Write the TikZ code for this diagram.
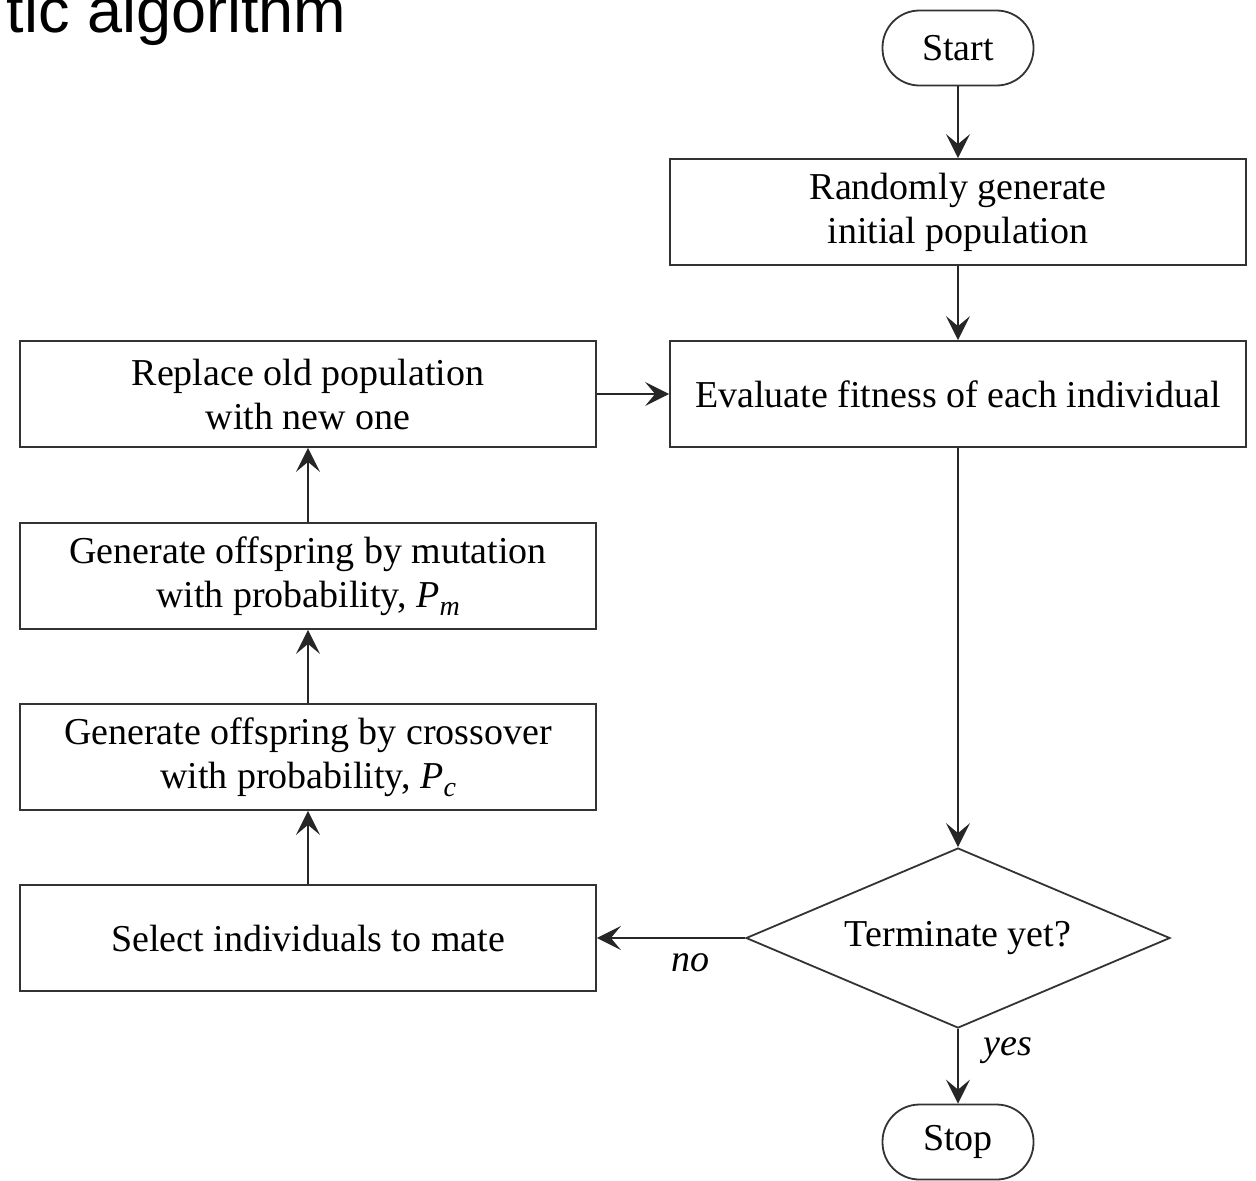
\documentclass[tikz,border=0pt]{standalone}
\usepackage{fontspec}
\setmainfont{Liberation Serif}
\newfontfamily\titlefont{Liberation Sans}
\usetikzlibrary{shapes.geometric,arrows.meta}
\begin{document}
\begin{tikzpicture}[x=0.5pt,y=-0.5pt,
  line width=0.9pt,
  every node/.style={font=\fontsize{19}{22}\selectfont},
  box/.style={draw=black!80, rectangle, minimum width=288pt, minimum height=53pt, align=center, inner sep=0pt},
  term/.style={draw=black!80, rectangle, rounded corners=18.5pt, minimum width=75.5pt, minimum height=37.5pt, inner sep=0pt},
  decision/.style={draw=black!80, diamond, aspect=2.36, minimum width=212pt, minimum height=90pt, inner sep=0pt},
  flow/.style={draw=black!85, -{Stealth[length=12pt,width=12pt,inset=5pt]}},
  tag/.style={font=\fontsize{19}{22}\selectfont\itshape}
]
\useasboundingbox (0,0) rectangle (1256,1180);
\clip (0,0) rectangle (1256,1180);

% heading, cut by the top edge
\node[anchor=base west, inner sep=0pt, font=\titlefont\fontsize{31.5}{36}\selectfont] (title) at (6,32) {tic algorithm};

% main column
\node[term] (start) at (958,48) {Start};
\node[box] (init) at (958,212) {Randomly generate\\initial population};
\node[box] (eval) at (958,394) {Evaluate fitness of each individual};
\node[decision] (term) at (958,938) {Terminate yet?};
\node[term] (stop) at (958,1142) {Stop};

% loop column
\node[box] (repl) at (308,394) {Replace old population\\with new one};
\node[box] (mut) at (308,576) {Generate offspring by mutation\\with probability, \textit{P}\raisebox{-0.45ex}{\fontsize{14}{14}\selectfont\textit{m}}};
\node[box] (cross) at (308,757) {Generate offspring by crossover\\with probability, \textit{P}\raisebox{-0.45ex}{\fontsize{14}{14}\selectfont\textit{c}}};
\node[box] (sel) at (308,938) {Select individuals to mate};

% connectors
\draw[flow] (start) -- (init);
\draw[flow] (init) -- (eval);
\draw[flow] (eval) -- (term);
\draw[flow] (term.south) -- (stop.north);
\draw[flow] (term.west) -- (sel.east);
\draw[flow] (sel) -- (cross);
\draw[flow] (cross) -- (mut);
\draw[flow] (mut) -- (repl);
\draw[flow] (repl) -- (eval);

% branch labels
\node[tag] (no) at (690,963) {no};
\node[tag] (yes) at (1008,1051) {yes};
\end{tikzpicture}
\end{document}
